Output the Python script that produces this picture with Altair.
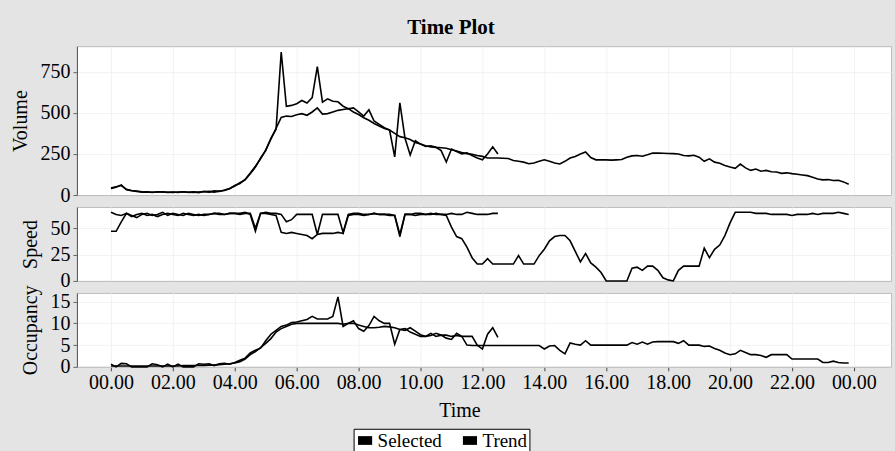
import altair as alt
import pandas as pd

# 10-minute grid: hour = k / 6
series_names = ["Selected", "Trend"]
tick_hours = [0, 2, 4, 6, 8, 10, 12, 14, 16, 18, 20, 22, 24]

volume_trend = [
    43, 50, 58, 35, 28, 25,
    20, 18, 17, 18, 20, 17,
    16, 18, 20, 17, 16, 18,
    20, 22, 18, 24, 28, 38,
    58, 70, 95, 134, 175, 220,
    275, 340, 405, 472, 480, 478,
    488, 495, 485, 505, 530, 492,
    495, 505, 515, 520, 525, 505,
    490, 470, 455, 435, 420, 405,
    395, 375, 355, 348, 338, 320,
    310, 300, 293, 290, 288, 285,
    275, 268, 258, 252, 248, 240,
    235, 225, 225, 225, 224, 222,
    210, 205, 200, 190, 195, 205,
    214, 205, 195, 189, 205, 225,
    235, 250, 262, 228, 214, 215,
    214, 212, 214, 216, 230, 238,
    240, 236, 245, 256, 255, 254,
    253, 252, 250, 240, 238, 242,
    230, 205, 220, 200, 193, 180,
    170, 162, 188, 165, 150, 158,
    145, 150, 142, 140, 132, 135,
    130, 126, 122, 118, 108, 98,
    92, 94, 88, 90, 80, 66,
]
volume_selected = [
    40, 48, 62, 32, 26, 22,
    18, 19, 16, 20, 18, 16,
    18, 15, 20, 16, 19, 15,
    22, 18, 25, 22, 30, 40,
    55, 75, 92, 130, 170, 225,
    270, 345, 400, 870, 540, 545,
    555, 575, 560, 592, 781, 565,
    585, 570, 567, 540, 525, 530,
    505, 480, 518, 450, 430, 410,
    395, 232, 561, 345, 244, 330,
    310, 295, 300, 290, 270, 201,
    280, 265, 250, 256, 240, 225,
    214, 250, 293, 250,
]

speed_trend = [
    65, 63, 62, 64, 61, 63,
    64, 62, 63, 61, 63, 64,
    63, 62, 64, 63, 62, 63,
    62, 63, 64, 63, 63, 64,
    64, 63, 64, 64, 50, 64,
    64, 63, 62, 46, 45, 46,
    45, 44, 43, 40, 44, 45,
    45, 45, 46, 45, 62, 63,
    63, 62, 63, 64, 63, 63,
    62, 62, 42, 63, 63, 62,
    63, 63, 64, 63, 63, 62,
    51, 42, 40, 32, 22, 16,
    16, 21, 16, 16, 16, 16,
    16, 24, 16, 16, 16, 24,
    30, 38, 42, 43, 43, 38,
    28, 18, 26, 17, 13, 8,
    0, 0, 0, 0, 0, 12,
    13, 10, 14, 14, 10, 3,
    1, 0, 10, 14, 14, 14,
    14, 31, 22, 30, 34, 43,
    55, 65, 65, 65, 65, 64,
    64, 64, 63, 63, 63, 63,
    62, 63, 63, 63, 64, 63,
    64, 64, 64, 65, 64, 63,
]
speed_selected = [
    47, 47, 56, 64, 62, 60,
    63, 64, 62, 63, 65, 62,
    64, 63, 62, 64, 63, 62,
    63, 63, 64, 64, 63, 64,
    64, 64, 65, 63, 47, 64,
    65, 64, 64, 63, 56, 58,
    63, 63, 63, 63, 44, 63,
    63, 63, 63, 46, 63, 64,
    64, 63, 63, 64, 63, 63,
    63, 62, 44, 63, 63, 64,
    64, 63, 63, 64, 63, 63,
    64, 63, 63, 65, 64, 63,
    63, 63, 64, 64,
]

occupancy_trend = [
    0.2, 0.2, 0.2, 0.2, 0.2, 0.2,
    0.2, 0.2, 0.2, 0.2, 0.2, 0.2,
    0.2, 0.2, 0.3, 0.3, 0.3, 0.3,
    0.3, 0.4, 0.4, 0.5, 0.6, 0.7,
    0.9, 1.2, 1.8, 2.8, 3.5, 4.4,
    5.4, 6.5, 8.0, 8.8, 9.3, 9.8,
    10.0, 10.0, 10.0, 10.0, 10.0, 10.0,
    10.0, 10.0, 10.0, 9.8, 10.0, 10.0,
    9.6, 9.3, 9.0, 9.0, 9.1, 9.3,
    9.2, 9.0, 8.6, 8.4, 9.0, 8.2,
    7.4, 7.0, 7.2, 7.7, 7.3, 7.3,
    7.0, 7.2, 7.0, 5.0, 4.9, 4.9,
    4.9, 4.9, 4.9, 4.9, 4.9, 4.9,
    4.9, 4.9, 4.9, 4.9, 4.9, 4.9,
    4.1, 4.8, 4.9, 3.8, 3.0, 5.5,
    5.2, 5.0, 6.0, 5.0, 5.0, 5.0,
    5.0, 5.0, 5.0, 5.0, 5.0, 5.6,
    5.2, 5.7, 5.2, 5.7, 5.8, 5.8,
    5.8, 5.8, 5.4, 6.0, 5.0, 5.0,
    5.0, 4.7, 4.8, 4.2, 3.8, 3.2,
    2.8, 3.0, 3.8, 3.3, 2.8, 2.8,
    2.6, 2.2, 2.8, 2.8, 2.8, 2.8,
    1.8, 1.8, 1.8, 1.8, 1.8, 1.8,
    1.0, 1.0, 1.3, 1.0, 0.9, 0.9,
]
occupancy_selected = [
    0.6, 0.0, 0.8, 0.7, 0.0, 0.0,
    0.0, 0.0, 0.7, 0.5, 0.0, 0.6,
    0.0, 0.6, 0.0, 0.0, 0.0, 0.7,
    0.6, 0.7, 0.3, 0.7, 0.8, 0.6,
    1.0, 1.5, 2.0, 3.2, 3.8, 4.3,
    6.0, 7.5, 8.4, 9.3, 9.6, 10.2,
    10.3, 10.6, 10.9, 11.6, 11.0, 11.0,
    11.0, 11.6, 16.1, 9.3, 10.0, 10.6,
    8.8, 8.2, 9.5, 11.6, 10.6, 10.0,
    10.0, 5.2, 8.6, 8.8, 8.0, 7.5,
    7.0, 7.0, 7.7, 7.0, 7.3, 6.6,
    6.3, 7.7, 7.0, 7.0, 7.0, 5.0,
    4.1, 7.5, 9.0, 6.8,
]


def frame(selected, trend):
    rows = []
    for name, vals in (("Selected", selected), ("Trend", trend)):
        for k, v in enumerate(vals):
            rows.append({"hour": k / 6.0, "value": v, "series": name})
    return pd.DataFrame(rows)


SERIF = "Liberation Serif"
X_DOMAIN = [-1.1, 25.2]
W = 815

color = alt.Color(
    "series:N",
    scale=alt.Scale(domain=series_names, range=["black", "black"]),
    legend=alt.Legend(
        title=None,
        orient="none",
        legendX=277,
        legendY=383,
        direction="horizontal",
        symbolType="M-1,-0.62H1V0.62H-1Z",
        symbolSize=200,
        symbolFillColor="black",
        symbolStrokeColor="black",
        symbolStrokeWidth=0,
        labelFont=SERIF,
        labelFontSize=19,
        labelColor="black",
        strokeColor="black",
        fillColor="white",
        padding=2,
        columnPadding=18,
        labelOffset=3,
    ),
)


def panel(df, title, ymax, yticks, height, bottom):
    if bottom:
        xaxis = alt.Axis(
            values=tick_hours,
            labelExpr="(datum.value % 24 < 10 ? '0' : '') + (datum.value % 24) + '.00'",
            title="Time",
            titleFont=SERIF,
            titleFontSize=20,
            titleFontWeight="normal",
            titleColor="black",
            titlePadding=8,
            titleX=383,
            labelFont=SERIF,
            labelFontSize=20,
            labelColor="black",
            labelPadding=2,
            tickSize=4,
            tickColor="#444",
            domainColor="#bdbdbd",
            gridColor="#f2f2f2",
        )
    else:
        xaxis = alt.Axis(
            values=tick_hours, labels=False, ticks=False, title=None,
            domainColor="#bdbdbd", gridColor="#f2f2f2",
        )
    return (
        alt.Chart(df)
        .mark_line(strokeWidth=1.6)
        .encode(
            x=alt.X("hour:Q", scale=alt.Scale(domain=X_DOMAIN, nice=False, zero=False), axis=xaxis),
            y=alt.Y(
                "value:Q",
                scale=alt.Scale(domain=[0, ymax], nice=False),
                axis=alt.Axis(
                    values=yticks,
                    title=title,
                    titleFont=SERIF,
                    titleFontSize=20,
                    titleFontWeight="normal",
                    titleColor="black",
                    titlePadding=9,
                    labelFont=SERIF,
                    labelFontSize=20,
                    labelColor="black",
                    labelPadding=3,
                    tickSize=4,
                    tickColor="#666",
                    domainColor="#555",
                    gridColor="#f2f2f2",
                ),
            ),
            color=color,
        )
        .properties(width=W, height=height)
    )


vol = panel(frame(volume_selected, volume_trend), "Volume", 905, [0, 250, 500, 750], 149, False)
spd = panel(frame(speed_selected, speed_trend), "Speed", 70, [0, 25, 50], 74, False)
occ = panel(frame(occupancy_selected, occupancy_trend), "Occupancy", 17, [0, 5, 10, 15], 74, True)

chart = (
    alt.vconcat(vol, spd, occ, spacing=12, bounds="flush")
    .properties(
        title=alt.TitleParams(
            "Time Plot", font=SERIF, fontSize=21, fontWeight="bold", color="black",
            anchor="middle", offset=8,
        ),
        padding={"left": 10, "right": 3, "top": 16, "bottom": 2},
        background="#e4e4e4",
    )
    .configure_view(fill="white", stroke="#bdbdbd", strokeWidth=1)
)

chart.save("out.html", embed_options={"renderer": "svg", "actions": False})
